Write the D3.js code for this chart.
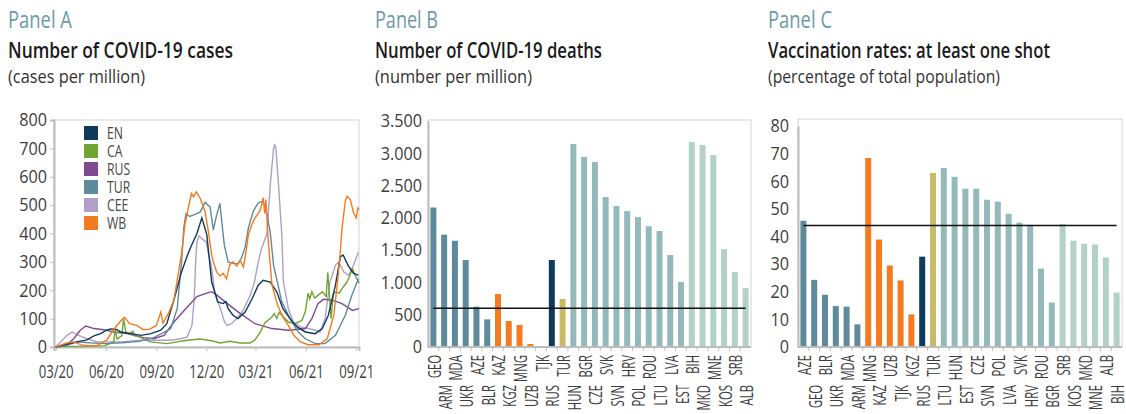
<!DOCTYPE html>
<html>
<head>
<meta charset="utf-8">
<script src="https://cdn.jsdelivr.net/npm/d3@7"></script>
<style>
  body { margin: 0; background: #fff; }
  svg text { font-family: "Open Sans", "DejaVu Sans", sans-serif; }
</style>
</head>
<body>
<svg id="chart" width="1126" height="414"></svg>
<script>
//////////////////////////////////////////////////////////////// DATA
// Panel A: cases per million [date, value]
var EN = [["2020-03-01",0],["2020-03-26",12],["2020-04-12",20],["2020-04-26",24],["2020-05-11",40],["2020-05-22",47],["2020-06-02",59],["2020-06-10",64],["2020-06-20",62],["2020-06-28",53],["2020-07-16",47],["2020-08-04",41],["2020-08-22",47],["2020-09-09",59],["2020-09-20",82],["2020-10-03",165],["2020-10-16",259],["2020-10-27",320],["2020-11-03",353],["2020-11-14",400],["2020-11-23",455],["2020-12-02",396],["2020-12-11",229],["2020-12-22",159],["2021-01-01",153],["2021-01-06",160],["2021-01-10",135],["2021-01-19",112],["2021-01-28",100],["2021-02-10",123],["2021-02-23",171],["2021-03-06",218],["2021-03-15",235],["2021-03-28",229],["2021-04-09",194],["2021-04-20",135],["2021-05-03",100],["2021-05-16",71],["2021-05-31",53],["2021-06-18",47],["2021-07-01",65],["2021-07-12",112],["2021-07-25",218],["2021-08-03",318],["2021-08-08",324],["2021-08-17",288],["2021-08-27",259],["2021-09-05",253]];
var CA = [["2020-03-01",2],["2020-05-01",3],["2020-05-30",5],["2020-06-15",18],["2020-06-18",65],["2020-06-21",28],["2020-06-30",40],["2020-07-03",100],["2020-07-07",53],["2020-07-14",47],["2020-07-20",55],["2020-07-23",40],["2020-08-02",35],["2020-08-21",18],["2020-09-20",12],["2020-10-27",24],["2020-11-20",28],["2020-12-13",21],["2020-12-26",14],["2021-01-13",20],["2021-02-01",14],["2021-02-19",14],["2021-02-28",25],["2021-03-09",50],["2021-03-18",85],["2021-03-31",106],["2021-04-04",118],["2021-04-09",100],["2021-04-13",122],["2021-04-19",110],["2021-04-30",88],["2021-05-12",82],["2021-05-25",94],["2021-05-31",125],["2021-06-05",190],["2021-06-08",170],["2021-06-12",195],["2021-06-17",172],["2021-06-23",182],["2021-07-01",195],["2021-07-08",178],["2021-07-11",262],["2021-07-14",180],["2021-07-17",100],["2021-07-21",185],["2021-07-25",194],["2021-08-01",190],["2021-08-06",206],["2021-08-15",229],["2021-08-20",250],["2021-08-25",276],["2021-08-30",253],["2021-09-06",225]];
var RUS = [["2020-03-01",0],["2020-03-19",5],["2020-04-03",29],["2020-04-15",59],["2020-04-25",74],["2020-05-10",65],["2020-05-28",61],["2020-06-15",53],["2020-07-09",47],["2020-08-09",33],["2020-08-27",29],["2020-09-15",41],["2020-10-03",88],["2020-10-27",140],["2020-11-14",178],["2020-12-02",190],["2020-12-11",195],["2020-12-21",182],["2021-01-04",160],["2021-01-28",124],["2021-02-28",82],["2021-03-31",65],["2021-04-30",59],["2021-05-31",65],["2021-06-12",100],["2021-06-23",153],["2021-07-03",168],["2021-07-19",165],["2021-08-06",153],["2021-08-25",129],["2021-09-06",135]];
var TUR = [["2020-03-01",0],["2020-03-20",5],["2020-04-10",18],["2020-05-01",15],["2020-06-01",12],["2020-07-01",15],["2020-08-01",20],["2020-08-27",33],["2020-09-27",64],["2020-10-09",135],["2020-10-13",220],["2020-10-17",300],["2020-10-21",420],["2020-10-25",470],["2020-11-01",460],["2020-11-07",465],["2020-11-14",470],["2020-11-20",476],["2020-11-29",510],["2020-12-04",500],["2020-12-08",494],["2020-12-14",412],["2020-12-17",440],["2020-12-20",465],["2020-12-26",506],["2020-12-30",430],["2021-01-03",360],["2021-01-10",300],["2021-01-19",294],["2021-01-28",294],["2021-02-03",312],["2021-02-10",350],["2021-02-16",420],["2021-02-25",479],["2021-03-06",508],["2021-03-15",514],["2021-03-22",467],["2021-03-28",402],["2021-04-03",288],["2021-04-18",159],["2021-05-03",100],["2021-05-18",53],["2021-05-31",29],["2021-06-18",12],["2021-07-06",12],["2021-07-25",41],["2021-08-12",112],["2021-08-24",182],["2021-09-05",241]];
var CEE = [["2020-03-01",0],["2020-03-22",41],["2020-03-31",53],["2020-04-12",41],["2020-04-27",29],["2020-05-16",18],["2020-06-27",18],["2020-08-03",24],["2020-09-27",24],["2020-10-15",29],["2020-10-27",35],["2020-11-05",76],["2020-11-09",170],["2020-11-12",312],["2020-11-14",370],["2020-11-18",392],["2020-11-24",380],["2020-12-01",370],["2020-12-05",330],["2020-12-10",290],["2020-12-16",200],["2020-12-22",160],["2020-12-27",135],["2021-01-03",90],["2021-01-08",76],["2021-01-16",82],["2021-01-26",100],["2021-02-05",125],["2021-02-19",180],["2021-02-27",229],["2021-03-06",300],["2021-03-12",347],["2021-03-22",400],["2021-03-28",573],["2021-04-03",700],["2021-04-05",712],["2021-04-07",705],["2021-04-12",573],["2021-04-18",396],["2021-04-21",229],["2021-04-30",135],["2021-05-09",88],["2021-05-22",71],["2021-06-06",65],["2021-06-18",59],["2021-06-27",53],["2021-07-06",100],["2021-07-15",229],["2021-07-25",288],["2021-07-31",300],["2021-08-09",265],["2021-08-18",253],["2021-08-27",288],["2021-09-05",335]];
var WB = [["2020-03-01",0],["2020-03-21",14],["2020-04-02",18],["2020-04-20",6],["2020-05-14",3],["2020-06-02",24],["2020-06-14",59],["2020-06-29",94],["2020-07-05",105],["2020-07-14",82],["2020-07-27",76],["2020-08-08",61],["2020-08-20",63],["2020-09-01",76],["2020-09-09",123],["2020-09-13",84],["2020-09-16",94],["2020-09-24",123],["2020-10-03",165],["2020-10-11",259],["2020-10-17",329],["2020-10-23",430],["2020-10-29",488],["2020-11-04",541],["2020-11-08",530],["2020-11-13",547],["2020-11-20",524],["2020-11-29",476],["2020-12-05",406],["2020-12-11",324],["2020-12-14",300],["2020-12-20",265],["2020-12-26",250],["2021-01-01",260],["2021-01-07",240],["2021-01-13",290],["2021-01-19",300],["2021-01-26",285],["2021-02-01",305],["2021-02-07",282],["2021-02-12",340],["2021-02-16",396],["2021-02-22",430],["2021-02-28",455],["2021-03-09",479],["2021-03-12",500],["2021-03-15",526],["2021-03-18",470],["2021-03-20",520],["2021-03-24",380],["2021-03-31",220],["2021-04-10",150],["2021-04-20",105],["2021-04-30",76],["2021-05-10",41],["2021-05-22",18],["2021-06-05",8],["2021-06-25",8],["2021-07-10",29],["2021-07-22",112],["2021-07-30",250],["2021-08-03",340],["2021-08-06",420],["2021-08-12",514],["2021-08-15",531],["2021-08-21",520],["2021-08-27",473],["2021-09-01",455],["2021-09-04",490],["2021-09-06",485]];

var legendNames = ["EN", "CA", "RUS", "TUR", "CEE", "WB"];
var caseTicks = [0, 100, 200, 300, 400, 500, 600, 700, 800];
var dateTicks = ["2020-03-01","2020-06-01","2020-09-01","2020-12-01","2021-03-01","2021-06-01","2021-09-01"];

// Panel B: deaths per million
var deathCountries = ["GEO","ARM","MDA","UKR","AZE","BLR","KAZ","KGZ","MNG","UZB","TJK","RUS","TUR","HUN","BGR","CZE","SVK","SVN","HRV","POL","ROU","LTU","LVA","EST","BIH","MKD","MNE","KOS","SRB","ALB"];
var deathValues = [2160,1740,1645,1347,624,428,820,402,340,46,12,1347,743,3145,2942,2864,2322,2183,2105,2012,1870,1796,1424,1006,3173,3127,2972,1517,1161,913];
var deathGroups = ["EN","EN","EN","EN","EN","EN","CA","CA","CA","CA","CA","RUS","TUR","CEE","CEE","CEE","CEE","CEE","CEE","CEE","CEE","CEE","CEE","CEE","WB","WB","WB","WB","WB","WB"];
var deathAverage = 600;
var deathTicks = [0, 500, 1000, 1500, 2000, 2500, 3000, 3500];

// Panel C: at least one vaccine shot, % of population
var vaxCountries = ["AZE","GEO","BLR","UKR","MDA","ARM","MNG","KAZ","UZB","TJK","KGZ","RUS","TUR","LTU","HUN","EST","CZE","SVN","POL","LVA","SVK","HRV","ROU","BGR","SRB","KOS","MKD","MNE","ALB","BIH"];
var vaxValues = [45.7,24.3,18.9,14.8,14.6,8.2,68.4,38.9,29.5,24.1,11.8,32.7,63,64.8,61.6,57.3,57.3,53.3,52.6,48.2,45,44.2,28.4,16.1,44.5,38.5,37.4,37.1,32.4,19.7];
var vaxGroups = ["EN","EN","EN","EN","EN","EN","CA","CA","CA","CA","CA","RUS","TUR","CEE","CEE","CEE","CEE","CEE","CEE","CEE","CEE","CEE","CEE","CEE","WB","WB","WB","WB","WB","WB"];
var vaxAverage = 44;
var vaxTicks = [0, 10, 20, 30, 40, 50, 60, 70, 80];

//////////////////////////////////////////////////////////////// STYLE
var lineColors = { EN: "#0e3a5c", CA: "#70a532", RUS: "#7f4a92", TUR: "#5f8a9b", CEE: "#b09fca", WB: "#f47b20" };
var barColors  = { EN: "#5f8a9b", CA: "#f47b20", RUS: "#0e3a5c", TUR: "#c9bb66", CEE: "#93b9ba", WB: "#b1d2c4" };
var colPanel = "#6b9aa8", colText = "#3d3d3d", colGrid = "#d3d3d3", colAxis = "#bdbdbd";

var svg = d3.select("#chart");
var parse = d3.timeParse("%Y-%m-%d");
var dotFormat = d3.formatLocale({ decimal: ",", thousands: ".", grouping: [3], currency: ["", ""] }).format(",");

// the original uses a condensed face: squeeze the installed one along the text direction
function condense(sel, f) {
  sel.each(function() {
    var w = this.getComputedTextLength();
    d3.select(this).attr("textLength", w * f).attr("lengthAdjust", "spacingAndGlyphs");
  });
}

// headings
function heading(x, panel, title, sub, lens) {
  svg.append("text").attr("x", x).attr("y", 28).attr("fill", colPanel)
    .attr("font-size", 23).attr("textLength", lens[0]).attr("lengthAdjust", "spacingAndGlyphs").text(panel);
  svg.append("text").attr("x", x).attr("y", 58).attr("fill", "#1b1b1b")
    .attr("font-size", 21).attr("font-weight", 600)
    .attr("textLength", lens[1]).attr("lengthAdjust", "spacingAndGlyphs").text(title);
  svg.append("text").attr("x", x).attr("y", 83).attr("fill", "#333")
    .attr("font-size", 19).attr("textLength", lens[2]).attr("lengthAdjust", "spacingAndGlyphs").text(sub);
}
heading(8, "Panel A", "Number of COVID-19 cases", "(cases per million)", [64, 225, 137]);
heading(375, "Panel B", "Number of COVID-19 deaths", "(number per million)", [63, 227, 157]);
heading(768, "Panel C", "Vaccination rates: at least one shot", "(percentage of total population)", [64, 282, 232]);

///////////////////////////////////////////////////////////////////// PANEL A
(function(){
  var x = d3.scaleTime().domain([parse("2020-02-27"), parse("2021-09-06")]).range([54, 359]);
  var y = d3.scaleLinear().domain([0, 800]).range([347, 120]);

  svg.append("rect").attr("x", 54).attr("y", y(800)).attr("width", 359 - 54).attr("height", y(0) - y(800))
    .attr("fill", "none").attr("stroke", colGrid);

  var yAxis = svg.append("g").attr("transform", "translate(54,0)")
    .call(d3.axisLeft(y).tickValues(caseTicks).tickSize(4).tickPadding(3));
  yAxis.selectAll("text").attr("font-size", 18).attr("fill", colText).call(condense, 0.9);

  var xAxis = svg.append("g").attr("transform", "translate(0,347)")
    .call(d3.axisBottom(x).tickValues(dateTicks.map(parse)).tickFormat(d3.timeFormat("%m/%y")).tickSize(4).tickPadding(14));
  xAxis.selectAll("text").attr("font-size", 18).attr("fill", colText).call(condense, 0.73);

  [yAxis, xAxis].forEach(function(a){
    a.select(".domain").attr("stroke", colAxis).attr("stroke-width", 2);
    a.selectAll(".tick line").attr("stroke", colAxis);
  });

  var line = d3.line()
    .x(function(d) { return x(parse(d[0])); })
    .y(function(d) { return y(d[1]); });

  var order = [["CEE", CEE], ["RUS", RUS], ["CA", CA], ["TUR", TUR], ["EN", EN], ["WB", WB]];
  order.forEach(function(s){
    svg.append("path").datum(s[1])
      .attr("fill", "none").attr("stroke", lineColors[s[0]]).attr("stroke-width", 1.4)
      .attr("d", line);
  });

  // legend
  var lg = svg.append("g").attr("transform", "translate(84,126)");
  legendNames.forEach(function(n, i){
    lg.append("rect").attr("x", 0).attr("y", i * 18).attr("width", 14).attr("height", 14).attr("fill", lineColors[n]);
    lg.append("text").attr("x", 23).attr("y", i * 18 + 13).attr("font-size", 17).attr("fill", "#4a4a4a")
      .text(n).call(condense, 0.72);
  });
})();

///////////////////////////////////////////////////////////////////// BAR PANELS
function barPanel(cfg) {
  var x = d3.scalePoint().domain(cfg.cats).range([cfg.left, cfg.right]).padding(0.5);
  var y = d3.scaleLinear().domain([0, cfg.max]).range([347, cfg.yTop]);
  var step = x.step();

  svg.append("rect").attr("x", cfg.left).attr("y", cfg.boxTop).attr("width", cfg.right - cfg.left)
    .attr("height", 347 - cfg.boxTop).attr("fill", "none").attr("stroke", colGrid);

  var yAxis = svg.append("g").attr("transform", "translate(" + cfg.left + ",0)")
    .call(d3.axisLeft(y).tickValues(cfg.ticks).tickFormat(cfg.fmt).tickSize(0).tickPadding(cfg.pad));
  yAxis.selectAll("text").attr("font-size", 18).attr("fill", colText).call(condense, 0.9);
  yAxis.select(".domain").attr("stroke", colAxis).attr("stroke-width", 2);

  // bars
  svg.append("g").selectAll("rect").data(cfg.vals).enter().append("rect")
    .attr("x", function(d, i) { return x(cfg.cats[i]) - 3; })
    .attr("width", 6)
    .attr("y", function(d) { return y(d); })
    .attr("height", function(d) { return 347 - y(d); })
    .attr("fill", function(d, i) { return barColors[cfg.groups[i]]; });

  // x axis line + ticks between categories
  svg.append("line").attr("x1", cfg.left).attr("x2", cfg.right).attr("y1", 347).attr("y2", 347)
    .attr("stroke", colAxis).attr("stroke-width", 2);
  svg.append("g").selectAll("line").data(cfg.cats.slice(1)).enter().append("line")
    .attr("x1", function(d) { return x(d) - step / 2; }).attr("x2", function(d) { return x(d) - step / 2; })
    .attr("y1", 347).attr("y2", 351).attr("stroke", colAxis);

  // category labels in two staggered rows
  svg.append("g").selectAll("text").data(cfg.cats).enter().append("text")
    .attr("transform", function(d, i) { return "translate(" + (x(d) + 1) + "," + (i % 2 ? 385 : 355) + ") rotate(-90)"; })
    .attr("text-anchor", "end").attr("dy", "0.36em")
    .attr("font-size", 18).attr("fill", colText)
    .text(function(d) { return d; })
    .call(condense, 0.63);

  // reference average
  svg.append("line")
    .attr("x1", x(cfg.cats[0])).attr("x2", x(cfg.cats[cfg.cats.length - 1]))
    .attr("y1", y(cfg.avg)).attr("y2", y(cfg.avg))
    .attr("stroke", "#111").attr("stroke-width", 1.5);
}

barPanel({ cats: deathCountries, vals: deathValues, groups: deathGroups, avg: deathAverage,
  left: 428, right: 751, max: 3500, yTop: 121, boxTop: 120, ticks: deathTicks, fmt: dotFormat, pad: 6 });
barPanel({ cats: vaxCountries, vals: vaxValues, groups: vaxGroups, avg: vaxAverage,
  left: 798, right: 1122, max: 80, yTop: 126, boxTop: 119, ticks: vaxTicks, fmt: d3.format("d"), pad: 9 });
</script>
</body>
</html>
